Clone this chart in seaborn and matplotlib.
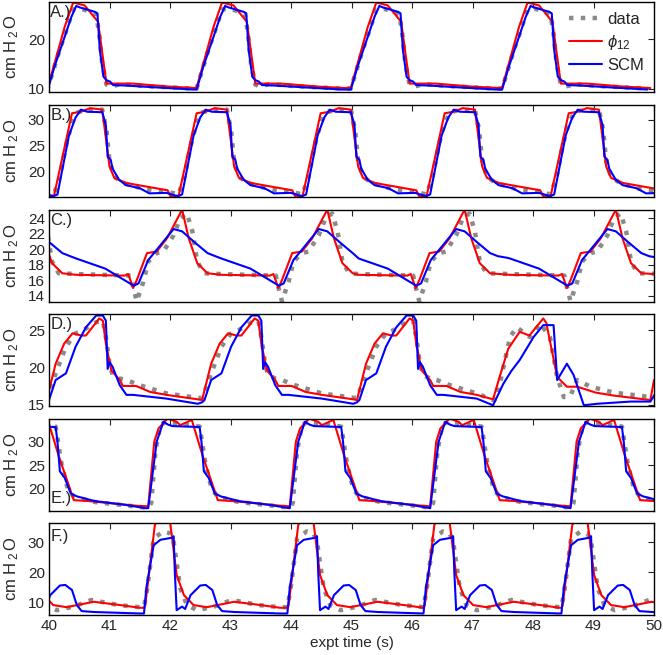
import numpy as np
import pandas as pd
import matplotlib.pyplot as plt
import seaborn as sns

# ---- data ----------------------------------------------------------------
# each trace is periodic: onset times (s) of every breath + one-cycle shape
# as (seconds after onset, cm H2O)

A_ONSET = [37.52, 39.98, 42.44, 44.99, 47.49]
A_DATA = [(0, 10), (0.1, 14), (0.2, 18), (0.3, 21.5), (0.42, 26), (0.55, 26.1), (0.7, 25.6),
          (0.8, 25), (0.85, 21), (0.9, 15), (0.97, 10.8), (1.05, 10.4), (1.2, 10.9), (1.6, 10.5), (2.4, 10)]
A_PHI = [(0, 10.2), (0.11, 15), (0.28, 22.5), (0.42, 27.4), (0.61, 26.8), (0.83, 23.5), (0.97, 11),
         (1.4, 11), (2.0, 10.4), (2.45, 10.1)]
A_SCM = [(0, 9.8), (0.11, 14.4), (0.28, 20.5), (0.39, 24.5), (0.47, 26.7), (0.53, 26.4), (0.78, 25.5),
         (0.82, 25.2), (0.86, 17.8), (0.92, 12.4), (0.97, 11.7), (1.03, 11.4), (1.08, 10.7), (1.3, 10.6),
         (1.83, 10.2), (2.4, 9.8)]

B_ONSET = [38.03, 40.08, 42.14, 44.19, 46.24, 48.29]
B_DATA = [(0, 15.6), (0.1, 19), (0.2, 25), (0.3, 29.5), (0.4, 31.5), (0.5, 31.8), (0.8, 32), (0.87, 28),
          (0.92, 22), (1.0, 19), (1.15, 17.8), (1.5, 16.6), (1.9, 16), (2.05, 15.7)]
B_PHI = [(0, 15.2), (0.3, 31.3), (0.45, 31.6), (0.6, 32.3), (0.8, 32), (0.92, 21), (1.0, 18.8),
         (1.2, 17.8), (1.88, 16.4), (1.93, 15.2)]
B_SCM = [(0, 15.3), (0.06, 15.6), (0.15, 21), (0.25, 27), (0.36, 30.5), (0.45, 32), (0.55, 31.6),
         (0.8, 31.5), (0.86, 29), (0.89, 22.9), (0.94, 22.3), (0.97, 20.6), (1.08, 18.4), (1.19, 17.4),
         (1.42, 16.8), (1.58, 15.8), (1.86, 15.9), (2.0, 15.4)]

C_ONSET = [38.05, 40.45, 42.85, 45.12, 47.62]
C_DATA = [(0, 16.8), (0.9, 16.6), (0.92, 15.8), (1.0, 13.3), (1.11, 15.8), (1.19, 18.4), (1.33, 19.5),
          (1.44, 19.7), (1.61, 21.8), (1.72, 24), (1.83, 24.6), (1.92, 22.3), (2.0, 18.4), (2.11, 16.9),
          (2.6, 16.8)]
C_PHI = [(0, 16.7), (0.8, 16.6), (0.86, 16.8), (0.94, 15.0), (1.0, 16.0), (1.17, 19.5), (1.33, 19.7),
         (1.5, 21.4), (1.75, 25.1), (1.86, 21.4), (2.0, 18.2), (2.17, 16.9), (2.6, 16.7)]
C_SCM = [(0, 18.8), (0.48, 17.5), (0.95, 15.3), (1.03, 15.6), (1.19, 18.6), (1.39, 20.5), (1.61, 22.6),
         (1.75, 22.3), (1.94, 21.0), (2.17, 19.5), (2.3, 19.1), (2.45, 18.9)]

D_ONSET = [37.4, 39.96, 42.53, 45.09, 47.34]
D_DATA = [(0, 15.9), (0.04, 16.7), (0.15, 19.2), (0.32, 22.8), (0.48, 24.6), (0.6, 25), (0.82, 26.1),
          (0.93, 26.3), (0.98, 24.1), (1.04, 20.5), (1.09, 19), (1.21, 18.5), (1.32, 18.3), (1.54, 17.6),
          (1.98, 16.5), (2.5, 15.9)]
D_PHI = [(0, 15.6), (0.04, 16.9), (0.15, 20.5), (0.29, 23.2), (0.43, 24.6), (0.57, 24.3), (0.65, 24.3),
         (0.87, 26.6), (0.93, 26.3), (0.98, 23.2), (1.07, 19.6), (1.21, 18.3), (1.26, 17.5), (1.48, 17.5),
         (1.71, 16.7), (1.98, 16.3), (2.5, 15.7)]
D_SCM = [(0, 15.3), (0.04, 15.6), (0.15, 18.3), (0.32, 19.2), (0.48, 22.8), (0.65, 25.4), (0.82, 27.0),
         (0.93, 27.0), (0.98, 26.3), (1.01, 19.8), (1.04, 20.7), (1.09, 20.1), (1.21, 17.6), (1.32, 16.3),
         (1.43, 16.3), (1.98, 15.8), (2.5, 15.1)]
# last breath in D looks different
D_DATA_LAST = [(0, 15.6), (0.06, 15.8), (0.28, 24.1), (0.39, 25.4), (0.61, 24.1), (0.78, 25.9), (0.94, 24.1),
               (1.06, 18.7), (1.17, 16), (1.28, 16.2), (1.39, 18.3), (1.61, 17.4), (2.0, 16.6), (2.61, 16)]
D_PHI_LAST = [(0, 15.7), (0.1, 18.5), (0.25, 22.5), (0.44, 24.8), (0.6, 24.3), (0.83, 26.6), (0.88, 26),
              (1.06, 18.7), (1.22, 17.4), (1.39, 17.4), (1.7, 16.6), (2.0, 16.2), (2.6, 15.6), (2.66, 18.3)]
D_SCM_LAST = [(0, 14.9), (0.17, 17.8), (0.3, 19.5), (0.44, 21), (0.67, 24.1), (0.83, 25.7), (1.0, 25.7),
              (1.06, 18.3), (1.22, 20.5), (1.33, 19), (1.5, 14.9), (1.72, 15.1), (2.28, 15.4), (2.6, 15.4),
              (2.7, 16.7)]

E_ONSET = [36.9, 39.26, 41.64, 43.98, 46.3, 48.62]
E_DATA = [(0, 16), (0.05, 17), (0.12, 28), (0.2, 33.5), (0.3, 34.3), (0.5, 33.8), (0.85, 33.2), (0.95, 25),
          (1.05, 20), (1.15, 18.3), (1.5, 17.2), (2.0, 16.5), (2.35, 16)]
E_PHI = [(0, 16.3), (0.1, 30), (0.17, 32.8), (0.32, 34.9), (0.47, 34.2), (0.53, 33.5), (0.72, 34.6),
         (0.9, 27), (1.15, 17.6), (1.4, 17.4), (2.2, 16.4), (2.35, 16.3)]
E_SCM = [(0, 15.9), (0.14, 30), (0.25, 34.2), (0.33, 33.6), (0.4, 33.3), (0.85, 33.1), (0.88, 30),
         (0.92, 23.7), (1.0, 22.3), (1.1, 19), (1.2, 18.4), (1.5, 17.4), (2.0, 16.6), (2.33, 15.9)]

F_ONSET = [36.85, 39.25, 41.57, 43.94, 46.19, 48.47]
F_DATA = [(0, 8.4), (0.05, 14), (0.16, 31.3), (0.32, 33.6), (0.43, 33), (0.49, 30.2), (0.6, 14.7),
          (0.71, 9.1), (0.88, 7.4), (1.16, 8.6), (1.45, 10.8), (1.9, 9.1), (2.25, 8.4)]
F_PHI = [(0, 8.2), (0.02, 9), (0.18, 35.8), (0.22, 37), (0.43, 37), (0.54, 19.1), (0.66, 12.4),
         (0.82, 9.1), (1.04, 8.4), (1.49, 10.2), (1.93, 9.1), (2.25, 8.2)]
F_SCM = [(0, 6.3), (0.04, 15), (0.16, 29), (0.27, 30.8), (0.46, 31.5), (0.49, 32), (0.51, 20), (0.54, 7.4),
         (0.63, 8.6), (0.68, 7.8), (0.77, 12.4), (0.93, 15.6), (1.02, 15.8), (1.13, 14.1), (1.21, 9.1),
         (1.29, 7.1), (1.49, 6.8), (2.25, 6.3)]

LABELS = ["A.)", "B.)", "C.)", "D.)", "E.)", "F.)"]
YTICKS = [[10, 20], [20, 25, 30], [14, 16, 18, 20, 22, 24], [15, 20, 25], [20, 25, 30], [10, 20, 30]]
XTICKS = list(range(40, 51))


def build(onsets, shape, last=None):
    ts, vs = [], []
    for i, t0 in enumerate(onsets):
        shp = last if (last is not None and i == len(onsets) - 1) else shape
        t_next = onsets[i + 1] if i + 1 < len(onsets) else np.inf
        for dt, v in shp:
            if t0 + dt < t_next - 1e-6:
                ts.append(t0 + dt)
                vs.append(v)
    return pd.DataFrame({"t": ts, "v": vs})


panels = [
    (A_ONSET, A_DATA, A_PHI, A_SCM, None),
    (B_ONSET, B_DATA, B_PHI, B_SCM, None),
    (C_ONSET, C_DATA, C_PHI, C_SCM, None),
    (D_ONSET, D_DATA, D_PHI, D_SCM, (D_DATA_LAST, D_PHI_LAST, D_SCM_LAST)),
    (E_ONSET, E_DATA, E_PHI, E_SCM, None),
    (F_ONSET, F_DATA, F_PHI, F_SCM, None),
]

# layout (pixel rows of each axes box) and y ranges
BOX_PX = [(2, 92), (105, 197), (210, 302), (314, 406), (419, 511), (523, 615)]
YLIM = [(9.3, 27.5), (15.1, 32.9), (13.2, 25.05), (14.8, 27.2), (15.3, 34.8), (5.8, 36.4)]
LABEL_Y = [0.97, 0.97, 0.97, 0.97, 0.05, 0.93]

GRAY, RED, BLUE = "#8a8a8a", "#ff0000", "#0000ff"

sns.set_style("white")
plt.rcParams["font.family"] = ["Liberation Sans", "DejaVu Sans"]
plt.rcParams["axes.edgecolor"] = "black"
plt.rcParams["mathtext.fontset"] = "custom"
plt.rcParams["mathtext.rm"] = "Liberation Sans"
plt.rcParams["mathtext.it"] = "Liberation Sans:italic"

W, H = 663, 655
fig = plt.figure(figsize=(W / 100, H / 100), dpi=100)

for k, (onsets, dshape, pshape, sshape, last) in enumerate(panels):
    top, bot = BOX_PX[k]
    ax = fig.add_axes([49 / W, 1 - bot / H, 605 / W, (bot - top) / H])
    lg = last if last else (None, None, None)
    sns.lineplot(data=build(onsets, dshape, lg[0]), x="t", y="v", ax=ax, color=GRAY, lw=3.2,
                 linestyle=":", estimator=None, sort=False)
    sns.lineplot(data=build(onsets, pshape, lg[1]), x="t", y="v", ax=ax, color=RED, lw=1.5,
                 estimator=None, sort=False)
    sns.lineplot(data=build(onsets, sshape, lg[2]), x="t", y="v", ax=ax, color=BLUE, lw=1.5,
                 estimator=None, sort=False)
    ax.set_xlim(40, 50)
    ax.set_ylim(*YLIM[k])
    ax.set_xticks(XTICKS)
    ax.set_yticks(YTICKS[k])
    ax.tick_params(direction="in", top=True, right=True, length=4, width=0.8,
                   labelsize=11, pad=3, labelbottom=(k == 5))
    for s in ax.spines.values():
        s.set_linewidth(1.0)
    ax.set_xlabel("")
    ax.set_ylabel(r"cm H$\,{}_{2}\,$O", fontsize=12)
    ax.yaxis.set_label_coords(-0.047, 0.5)
    va = "bottom" if k == 4 else "top"
    ax.text(0.002, LABEL_Y[k], LABELS[k], transform=ax.transAxes, fontsize=12, va=va, ha="left")
    if k == 0:
        ax.legend(ax.lines[:3], ["data", r"$\phi_{12}$", "SCM"], loc="upper right", fontsize=12,
                  frameon=False, handlelength=2.0, handletextpad=0.3, labelspacing=0.35,
                  borderaxespad=0.2)
    if k == 5:
        ax.set_xlabel("expt time (s)", fontsize=11, labelpad=2)

plt.savefig("out.png", dpi=100)
